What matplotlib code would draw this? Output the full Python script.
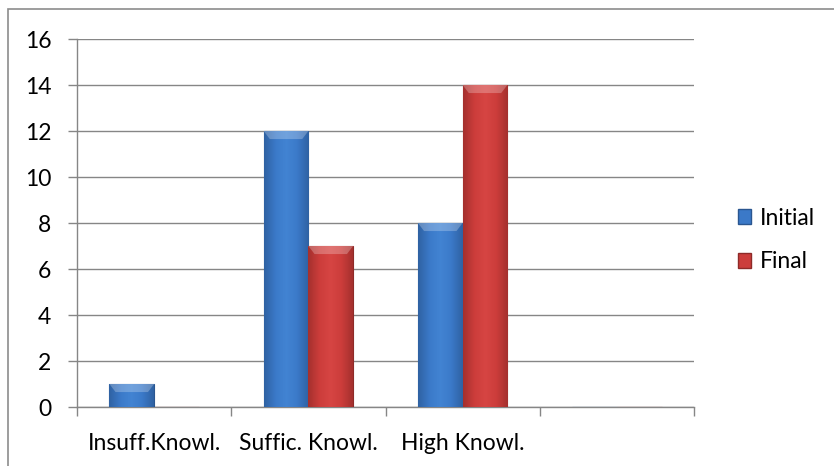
import numpy as np
import matplotlib.pyplot as plt
from matplotlib.colors import LinearSegmentedColormap
from matplotlib.patches import Rectangle, Polygon

plt.rcParams['font.family'] = ['Lato', 'DejaVu Sans']

categories = ['Insuff.Knowl.', 'Suffic. Knowl.', 'High Knowl.', '']
initial = [1, 12, 8, 0]
final = [0, 7, 14, 0]
y_ticks = [0, 2, 4, 6, 8, 10, 12, 14, 16]

blue_cmap = LinearSegmentedColormap.from_list(
    'blue', ['#2f62a3', '#3b79c8', '#4284d3', '#3b79c8', '#2f62a3'])
red_cmap = LinearSegmentedColormap.from_list(
    'red', ['#a5302e', '#cc3d3b', '#d64543', '#cc3d3b', '#a5302e'])

fig = plt.figure(figsize=(8.34, 4.66), dpi=100)
ax = fig.add_axes([77/834, 59/466, 617/834, 368/466])

# outer chart border
fig.patches.append(Rectangle((8/834, -0.1), 1.2, 1 - 9/466 + 0.1,
                             transform=fig.transFigure, fill=False,
                             edgecolor='#8c8c8c', linewidth=1.2))

x = np.arange(len(categories)) + 0.5
w = 0.29
grad = np.linspace(0, 1, 64).reshape(1, -1)


def gradient_bars(xs, vals, cmap, edge):
    bars = ax.bar(xs, vals, w, color=cmap(0.5), edgecolor=edge,
                  linewidth=0.8, zorder=3)
    for b in bars:
        if b.get_height() <= 0:
            continue
        x0, y0 = b.get_x(), b.get_y()
        bw, bh = b.get_width(), b.get_height()
        im = ax.imshow(grad, cmap=cmap, aspect='auto', zorder=3.5,
                       extent=[x0, x0 + bw, y0, y0 + bh])
        im.set_clip_path(b)
        # top bevel
        d = 0.35
        ax.add_patch(Polygon([(x0, bh), (x0 + bw, bh), (x0 + bw - 0.04, bh - d),
                              (x0 + 0.04, bh - d)], closed=True,
                             facecolor='white', alpha=0.25, edgecolor='none',
                             zorder=3.6))
    return bars


gradient_bars(x - w/2, initial, blue_cmap, '#2a5690')
gradient_bars(x + w/2, final, red_cmap, '#8e2a28')

ax.set_xlim(0, 4)
ax.set_ylim(0, 16)
ax.set_yticks(y_ticks)
ax.set_xticks(np.arange(0, 5), minor=False)
ax.set_xticklabels([])
ax.set_xticks(x, minor=True)
ax.set_xticklabels(categories, minor=True)
ax.tick_params(axis='x', which='major', length=6.5, color='#868686', width=1)
ax.tick_params(axis='x', which='minor', length=0, pad=18.5, labelsize=16.5)
ax.tick_params(axis='y', length=6.5, color='#868686', width=1, labelsize=16.5, pad=12)

ax.grid(axis='y', color='#868686', linewidth=1, zorder=0)
ax.set_axisbelow(True)
for s in ['top', 'right']:
    ax.spines[s].set_visible(False)
for s in ['left', 'bottom']:
    ax.spines[s].set_color('#868686')
    ax.spines[s].set_linewidth(1)

handles = [Rectangle((0, 0), 1, 1, facecolor='#3b79c8', edgecolor='#2a5690'),
           Rectangle((0, 0), 1, 1, facecolor='#cc3d3b', edgecolor='#8e2a28')]
fig.legend(handles, ['Initial', 'Final'], loc='center left',
           bbox_to_anchor=(717/834, 1 - 240/466), frameon=False,
           fontsize=16.5, handlelength=0.6, handleheight=0.6,
           handletextpad=0.35, labelspacing=1.0)

fig.savefig('out.png', dpi=100)
